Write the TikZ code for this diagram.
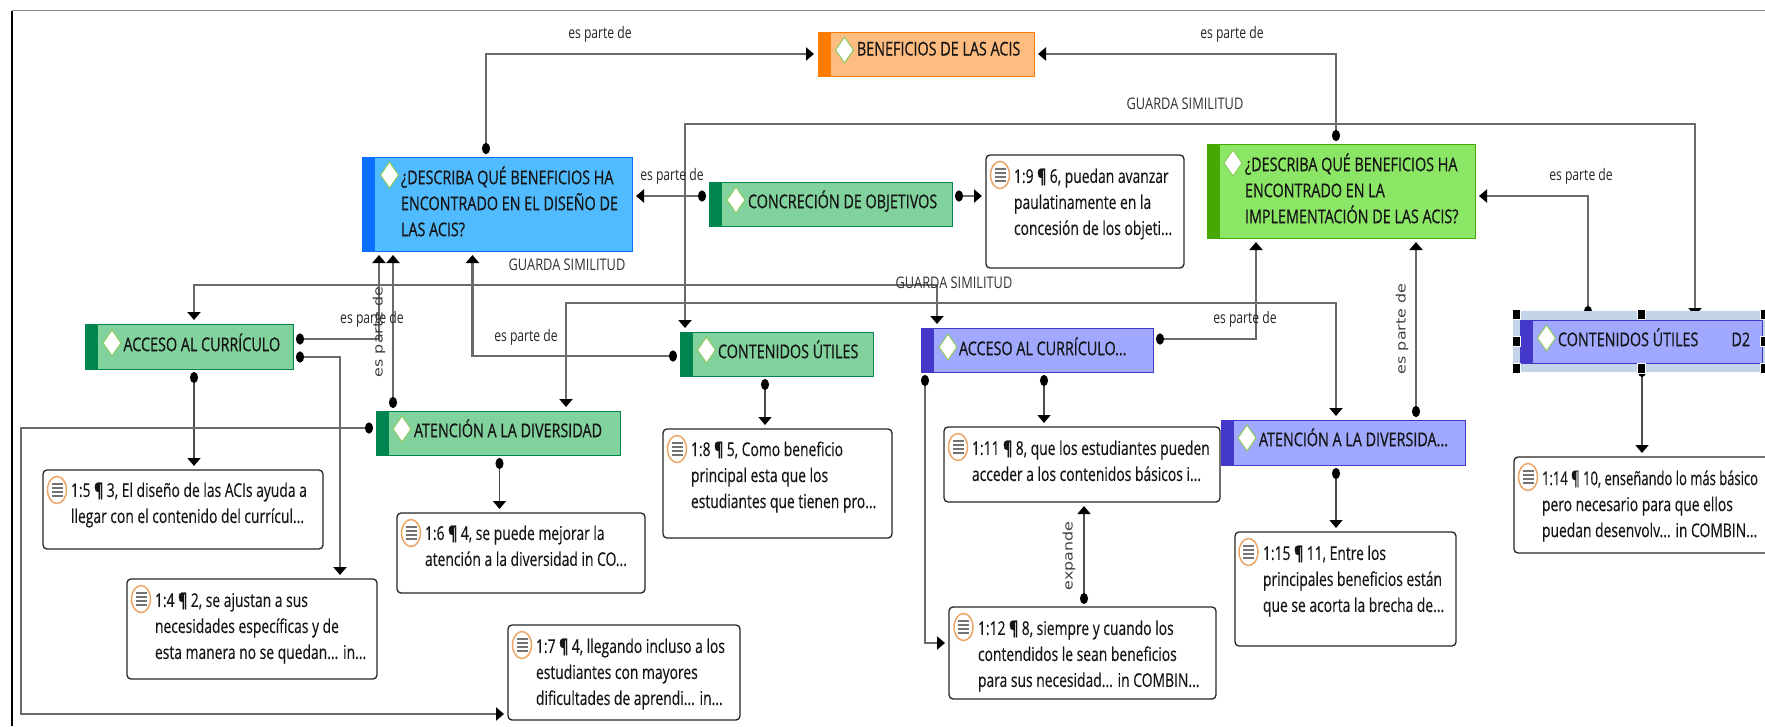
\documentclass[tikz,border=0pt]{standalone}
\usepackage{fontspec}
\usetikzlibrary{arrows.meta,calc}
\setmainfont[FakeStretch=0.73,FakeBold=0.25]{Open Sans}
\newfontfamily\narrowfont[FakeStretch=0.685,FakeBold=0.25]{Open Sans}
\newfontfamily\titlefont[FakeStretch=0.755,FakeBold=0.6]{Open Sans}
\newfontfamily\labfont[FakeStretch=0.76]{Open Sans}
\newfontfamily\capfont[FakeStretch=0.80]{Open Sans}
\newfontfamily\rotfont[FakeStretch=1.22]{DejaVu Sans}
\definecolor{lineg}{HTML}{6A6A6A}
\definecolor{txtc}{HTML}{151515}
\definecolor{orangeF}{HTML}{FFBC80}\definecolor{orangeB}{HTML}{FF7C00}
\definecolor{blueF}{HTML}{50BBFF}\definecolor{blueB}{HTML}{0A6EFF}
\definecolor{greenF}{HTML}{8CE666}\definecolor{greenB}{HTML}{46A800}
\definecolor{tealF}{HTML}{82D29E}\definecolor{tealB}{HTML}{008450}
\definecolor{violF}{HTML}{A0A8FF}\definecolor{violB}{HTML}{4438C8}
\definecolor{selc}{HTML}{C4D4E8}
\definecolor{diam}{HTML}{8CCB5E}
\definecolor{memoO}{HTML}{EBA566}
\pgfdeclarelayer{bg}\pgfsetlayers{bg,main}
\tikzset{
 conn/.style={draw=lineg,line width=2.4pt,shorten <=3pt,shorten >=4pt,
   {Circle[length=11pt,width=8pt,color=black]}-{Triangle[length=8pt,width=13pt,color=black]}},
 hconn/.style={draw=lineg,line width=2.4pt,shorten <=3pt,shorten >=4pt,
   {Circle[length=8pt,width=11pt,color=black]}-{Triangle[length=8pt,width=13pt,color=black]}},
 thinconn/.style={conn,line width=1.4pt,draw=black!70},
 both/.style={draw=lineg,line width=2.4pt,shorten <=4pt,shorten >=4pt,
   {Triangle[length=8pt,width=13pt,color=black]}-{Triangle[length=8pt,width=13pt,color=black]}},
 qbox/.style={inner sep=0pt,outer sep=0pt,line width=1pt},
 memo/.style={draw=black!85,fill=white,rounded corners=4pt,line width=1.3pt,inner sep=0pt,outer sep=0pt},
 txt/.style={anchor=north west,inner sep=0pt,outer sep=0pt,align=left,text=txtc,yshift=8.5pt,
   font=\fontsize{19}{26}\selectfont,execute at begin node={\rule{0pt}{14pt}}},
 ttl/.style={txt,yshift=2pt,font=\titlefont\fontsize{19}{26}\selectfont},
 lab/.style={inner sep=0pt,text=black!85,font=\labfont\fontsize{16}{18}\selectfont},
 glab/.style={inner sep=0pt,text=black!80,font=\capfont\fontsize{16}{18}\selectfont},
 rotlab/.style={inner sep=0pt,text=black!75,rotate=90,font=\rotfont\fontsize{13}{15}\selectfont},
}
\newcommand{\cbox}[8]{% name x1 y1 x2 y2 fill bar diamondcentre
 \node[qbox,draw=#7,fill=#6,minimum width={(#4-#2)*1pt},minimum height={(#5-#3)*1pt}] (#1) at ({(#2+#4)/2},{(#3+#5)/2}) {};
 \fill[#7] (#1.north west) rectangle ([xshift=12.5pt]#1.south west);
 \filldraw[fill=white,draw=diam,line width=1pt] (#8) ++(-9,0) -- ++(9,-13) -- ++(9,13) -- ++(-9,13) -- cycle;
}
\newcommand{\mnote}[7]{% name x1 y1 x2 y2 iconx icony
 \node[memo,minimum width={(#4-#2)*1pt},minimum height={(#5-#3)*1pt}] (#1) at ({(#2+#4)/2},{(#3+#5)/2}) {};
 \filldraw[fill=white,draw=memoO,line width=1.5pt] (#6,#7) ellipse [x radius=9.5,y radius=13.5];
 \foreach \dy in {-6,-2,2,6}{\draw[black!55,line width=1.2pt] ({#6-5.5},{#7+\dy}) -- ({#6+5.5},{#7+\dy});}
}
\newcommand{\pil}{\textbf{¶}}
\begin{document}
\begin{tikzpicture}[x=1pt,y=-1pt]
\useasboundingbox (0,0) rectangle (1765,726);
% frame
\draw[black!45,line width=1pt] (12,10.5) -- (1765,10.5);
\draw[black,line width=1.6pt] (12,10.5) -- (12,726);
% boxes
\cbox{ben}{818}{32}{1034}{76}{orangeF}{orangeB}{844.5,50}
\node[ttl] (bent) at (857,52) {BENEFICIOS DE LAS ACIS};
\cbox{bq}{362.5}{157}{632}{251}{blueF}{blueB}{389.5,175}
\node[ttl] (bqt) at (401,177) {¿DESCRIBA QUÉ BENEFICIOS HA\\ENCONTRADO EN EL DISEÑO DE\\LAS ACIS?};
\cbox{con}{709}{182}{952}{226}{tealF}{tealB}{736,200}
\node[ttl] (cont) at (748,201) {CONCRECIÓN DE OBJETIVOS};
\cbox{gq}{1207}{144}{1475}{238}{greenF}{greenB}{1233,163}
\node[ttl] (gqt) at (1245,164) {¿DESCRIBA QUÉ BENEFICIOS HA\\ENCONTRADO EN LA\\IMPLEMENTACIÓN DE LAS ACIS?};
\cbox{acg}{85}{324}{293}{369}{tealF}{tealB}{112,343}
\node[ttl] (acgt) at (123.5,344) {ACCESO AL CURRÍCULO};
\cbox{cug}{680}{332}{873}{376}{tealF}{tealB}{706.5,350}
\node[ttl] (cugt) at (718,351) {CONTENIDOS ÚTILES};
\cbox{acp}{921}{328}{1153}{372}{violF}{violB}{948,347}
\node[ttl] (acpt) at (959,348) {ACCESO AL CURRÍCULO...};
\cbox{atg}{376}{411}{620}{455}{tealF}{tealB}{402,429}
\node[ttl] (atgt) at (414,430) {ATENCIÓN A LA DIVERSIDAD};
\cbox{atp}{1221}{420}{1465}{465}{violF}{violB}{1247,438}
\node[ttl] (atpt) at (1259,439) {ATENCIÓN A LA DIVERSIDA...};
% selected box
\node[qbox,fill=selc,minimum width=252pt,minimum height=61pt] (sel) at (1639,341.5) {};
\cbox{d2}{1520}{320}{1762}{363}{violF}{violB}{1546.5,338}
\node[ttl] (d2t) at (1558,339) {CONTENIDOS ÚTILES\hspace{33pt}D2};
\foreach \hx/\hy in {1516/314,1641/314,1764/314,1516/341,1764/341,1516/368,1641/368,1764/368}
  \filldraw[black,draw=white,line width=.6pt] (\hx-4,\hy-5) rectangle (\hx+4,\hy+5);
% notes
\mnote{m9}{986}{155}{1184}{268}{1000}{175}
\node[txt] (m9t) at (1014,177) {1:9 \pil{} 6, puedan avanzar\\paulatinamente en la\\concesión de los objeti...};
\mnote{m5}{43}{470}{323}{549}{57}{490}
\node[txt] (m5t) at (71,491) {1:5 \pil{} 3, El diseño de las ACIs ayuda a\\llegar con el contenido del currícul...};
\mnote{m4}{127}{579}{377}{679}{141}{599}
\node[txt] (m4t) at (155,601) {1:4 \pil{} 2, se ajustan a sus\\necesidades específicas y de\\esta manera no se quedan... in...};
\mnote{m6}{397}{513}{645}{593}{411}{533}
\node[txt] (m6t) at (425,534) {1:6 \pil{} 4, se puede mejorar la\\atención a la diversidad in CO...};
\mnote{m7}{508}{625}{740}{720}{522}{645}
\node[txt] (m7t) at (536,647) {1:7 \pil{} 4, llegando incluso a los\\estudiantes con mayores\\dificultades de aprendi... in...};
\mnote{m8}{663}{429}{892}{538}{677}{449}
\node[txt] (m8t) at (691,450) {1:8 \pil{} 5, Como beneficio\\principal esta que los\\estudiantes que tienen pro...};
\mnote{m11}{944}{427}{1220}{502}{958}{447}
\node[txt] (m11t) at (972,449) {1:11 \pil{} 8, que los estudiantes pueden\\acceder a los contenidos básicos i...};
\mnote{m12}{949}{607}{1216}{699}{963.5}{627}
\node[txt] (m12t) at (978,629) {1:12 \pil{} 8, siempre y cuando los\\contendidos le sean beneficios\\para sus necesidad... in COMBIN...};
\mnote{m15}{1235}{532}{1456}{646}{1248.5}{552}
\node[txt] (m15t) at (1263,554) {1:15 \pil{} 11, Entre los\\principales beneficios están\\que se acorta la brecha de...};
\mnote{m14}{1514}{457}{1775}{553}{1528}{477}
\node[txt] (m14t) at (1542,479) {{\narrowfont 1:14 ¶ 10, enseñando lo más básico}\\pero necesario para que ellos\\puedan desenvolv... in COMBIN...};
% connectors
\begin{pgfonlayer}{bg}
\fill[white] (0,0) rectangle (1765,726);
\draw[conn] (486,0 |- bq.north) |- (ben.west);
\draw[conn] (1336,0 |- gq.north) |- (ben.east);
\draw[both] (685,0 |- cug.north) -- (685,124) -- (1695,124) -- (1695,0 |- d2.north);
\draw[both] (194,0 |- acg.north) -- (194,285) -- (937,285) -- (937,0 |- acp.north);
\draw[both] (566,0 |- atg.north) -- (566,303) -- (1336,303) -- (1336,0 |- atp.north);
\draw[hconn] (con.west |- 0,196) -- (bq.east |- 0,196);
\draw[hconn] (con.east |- 0,196) -- (m9.west |- 0,196);
\draw[conn] (1588,0 |- d2.north) |- (gq.east |- 0,196);
\draw[hconn] (acg.east |- 0,339) -| (379,0 |- bq.south);
\draw[conn] (393,0 |- atg.north) -- (393,0 |- bq.south);
\draw[hconn] (acg.east |- 0,357) -| (340,0 |- m4.north);
\draw[thinconn] (194,0 |- acg.south) -- (194,0 |- m5.north);
\draw[hconn] (cug.west |- 0,356) -| (472.5,0 |- bq.south);
\draw[hconn] (atg.west |- 0,428) -- (21,428) -- (21,714) -- (m7.west |- 0,714);
\draw[thinconn] (499.5,0 |- atg.south) -- (499.5,0 |- m6.north);
\draw[thinconn] (765,0 |- cug.south) -- (765,0 |- m8.north);
\draw[hconn] (acp.east |- 0,339) -| (1256,0 |- gq.south);
\draw[conn] (1416,0 |- atp.north) -- (1416,0 |- gq.south);
\draw[thinconn] (1044,0 |- acp.south) -- (1044,0 |- m11.north);
\draw[conn] (925,0 |- acp.south) |- (m12.west |- 0,643);
\draw[thinconn] (1084,0 |- m12.north) -- (1084,0 |- m11.south);
\draw[thinconn] (1336,0 |- atp.south) -- (1336,0 |- m15.north);
\draw[thinconn] (1642,0 |- d2.south) -- (1642,0 |- m14.north);
\end{pgfonlayer}
% labels
\node[lab] (l1) at (600,34) {es parte de};
\node[lab] (l2) at (1232,34) {es parte de};
\node[lab] (l3) at (672,176) {es parte de};
\node[lab] (l4) at (1581,176) {es parte de};
\node[lab] (l5) at (372,319) {es parte de};
\node[lab] (l6) at (526,337) {es parte de};
\node[lab] (l7) at (1245,319) {es parte de};
\node[glab] (g1) at (1185,104) {GUARDA SIMILITUD};
\node[glab] (g2) at (954,283) {GUARDA SIMILITUD};
\node[glab] (g3) at (567,265) {GUARDA SIMILITUD};
\node[rotlab] (r1) at (379,332) {es parte de};
\node[rotlab] (r2) at (1402,329) {es parte de};
\node[rotlab] (r3) at (1069,556) {expande};
\end{tikzpicture}
\end{document}
